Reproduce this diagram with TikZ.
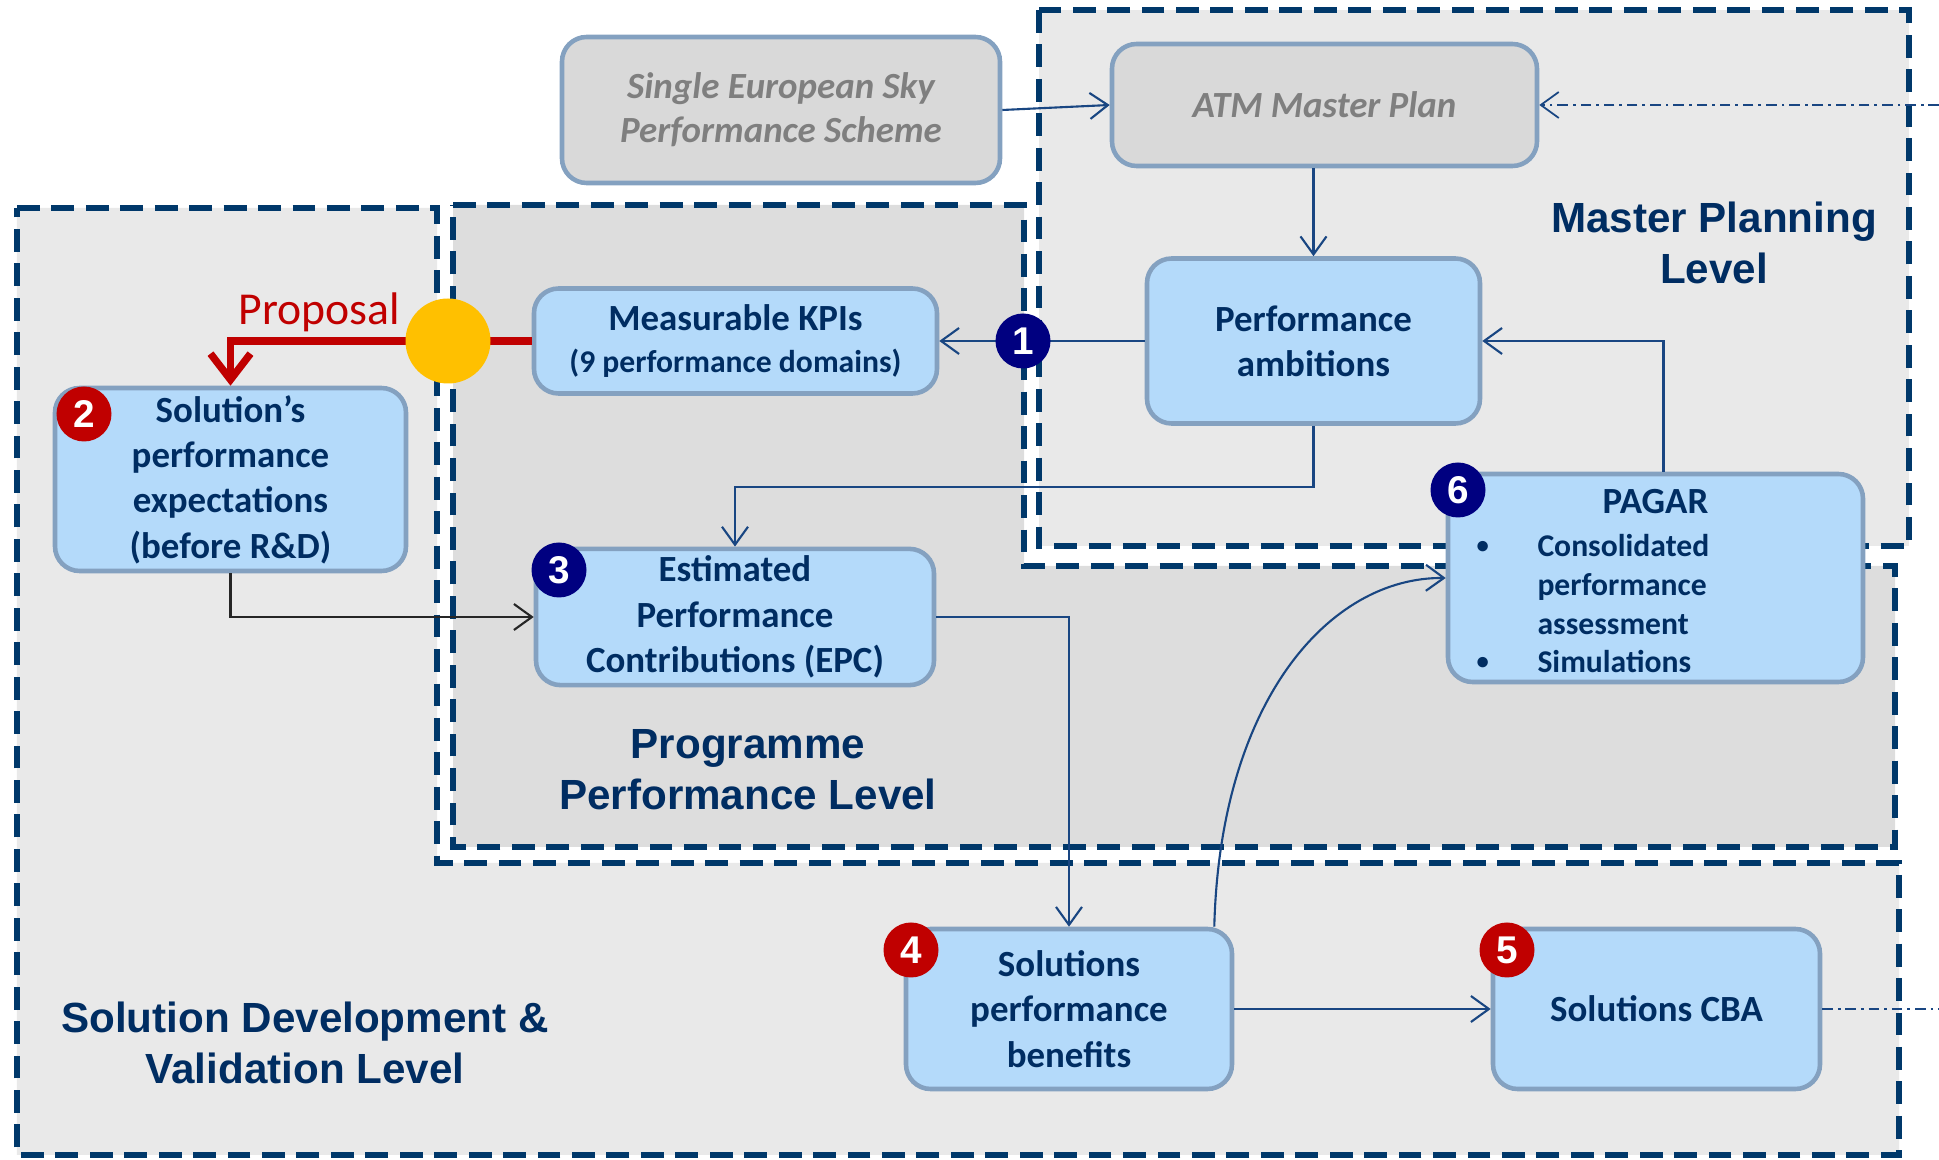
\documentclass[tikz,border=0pt]{standalone}
\usepackage{fontspec}
\setmainfont{Carlito}
\newfontfamily\arialfont{Liberation Sans}
\usepackage{tikz}
\usetikzlibrary{arrows.meta, positioning, calc}
\definecolor{zoneblue}{RGB}{0, 56, 106}
\definecolor{zonelight}{RGB}{233, 233, 233}
\definecolor{zonemid}{RGB}{221, 221, 221}
\definecolor{boxfill}{RGB}{180, 218, 250}
\definecolor{boxedge}{RGB}{132, 161, 192}
\definecolor{planfill}{RGB}{217, 217, 217}
\definecolor{plantext}{RGB}{127, 127, 127}
\definecolor{textnavy}{RGB}{0, 45, 98}
\definecolor{linkblue}{RGB}{25, 70, 130}
\definecolor{badgenavy}{RGB}{0, 0, 128}
\definecolor{badgered}{RGB}{192, 0, 0}
\definecolor{propgold}{RGB}{255, 192, 0}
\newcommand{\pagarbullet}{\raisebox{1pt}{\fontsize{7}{7}\selectfont\textbullet}}

\begin{document}
\begin{tikzpicture}[
  zone/.style={draw=zoneblue, line width=1.8pt, dash pattern=on 6.5pt off 3.3pt},
  bluebox/.style={draw=boxedge, line width=1.3pt, fill=boxfill, rounded corners=7pt, align=center, inner sep=2pt, text=textnavy, font=\fontsize{10.5}{12.9}\selectfont\bfseries},
  greybox/.style={bluebox, fill=planfill, text=plantext, font=\fontsize{10.5}{12.6}\selectfont\bfseries\itshape},
  numbadge/.style={circle, minimum size=0.55cm, inner sep=0pt, text=white, font=\arialfont\bfseries\fontsize{11}{11}\selectfont},
  navybadge/.style={numbadge, fill=badgenavy},
  redbadge/.style={numbadge, fill=badgered},
  zonelabel/.style={align=center, text=textnavy, font=\arialfont\bfseries\fontsize{12}{14.4}\selectfont},
  flow/.style={draw=linkblue, line width=0.6pt, -{Straight Barb[length=1.8mm, width=2.6mm]}},
  dashflow/.style={draw=linkblue, line width=0.5pt, dash pattern=on 3pt off 1.4pt on 0.8pt off 1.4pt}
]
  \useasboundingbox (0, 0) rectangle (19.39, 11.60);

  % Level zones
  \filldraw[zone, fill=zonelight] (0.17, 9.52) -- (4.37, 9.52) -- (4.37, 2.97) -- (18.99, 2.97) -- (18.99, 0.05) -- (0.17, 0.05) -- cycle;
  \filldraw[zone, fill=zonemid] (4.53, 9.55) -- (10.24, 9.55) -- (10.24, 5.94) -- (18.95, 5.94) -- (18.95, 3.13) -- (4.53, 3.13) -- cycle;
  \filldraw[zone, fill=zonelight] (10.39, 11.50) rectangle (19.09, 6.14);

  \node[zonelabel] (mplevel) at (17.14, 9.17) {Master Planning\\Level};
  \node[zonelabel] (pplevel) at (7.48, 3.90) {Programme\\Performance Level};
  \node[zonelabel] (sdlevel) at (3.05, 1.17) {Solution Development \&\\Validation Level};

  % Boxes
  \node[greybox, minimum width=4.38cm, minimum height=1.46cm] (SES) at (7.81, 10.50) {Single European Sky\\Performance Scheme};
  \node[greybox, minimum width=4.25cm, minimum height=1.22cm] (ATM) at (13.245, 10.55) {ATM Master Plan};
  \node[bluebox, minimum width=3.33cm, minimum height=1.65cm] (PerfAmb) at (13.135, 8.19) {Performance\\ambitions};
  \node[bluebox, minimum width=4.03cm, minimum height=1.05cm] (KPIs) at (7.355, 8.19) {Measurable KPIs\\[-1pt]{\fontsize{9}{10}\selectfont (9 performance domains)}};
  \node[bluebox, minimum width=3.51cm, minimum height=1.83cm] (SolExp) at (2.305, 6.805) {Solution’s\\performance\\expectations\\(before R\&D)};
  \node[bluebox, minimum width=3.98cm, minimum height=1.36cm] (EPC) at (7.35, 5.43) {Estimated\\Performance\\Contributions (EPC)};
  \node[bluebox, minimum width=4.15cm, minimum height=2.08cm, text width=3.9cm, align=left] (PAGAR) at (16.555, 5.82) {
    \makebox[3.9cm]{PAGAR}\\[-0.7pt]
    {\fontsize{9}{11}\selectfont
    \begin{tabular}[t]{@{\hspace{0.16cm}}p{0.61cm}@{}l@{}}
      \pagarbullet & Consolidated\\
                   & performance\\
                   & assessment\\
      \pagarbullet & Simulations\\[-0.18cm]
    \end{tabular}}
  };
  \node[bluebox, minimum width=3.26cm, minimum height=1.60cm] (SolBen) at (10.69, 1.51) {Solutions\\performance\\benefits};
  \node[bluebox, minimum width=3.27cm, minimum height=1.60cm] (CBA) at (16.565, 1.51) {Solutions CBA};

  % Connectors
  \coordinate (rimtop) at (19.39, 10.55);
  \coordinate (rimbot) at (19.39, 1.51);
  \draw[flow] (SES.east) -- (ATM.west);
  \draw[dashflow, -{Straight Barb[length=1.8mm, width=2.6mm]}] (rimtop) -- (ATM.east);
  \draw[flow] (ATM.south -| PerfAmb.north) -- (PerfAmb.north);
  \draw[flow] (PerfAmb.west) -- (KPIs.east);
  \draw[flow] (PerfAmb.south) -- ++(0, -0.61) -| (EPC.north);
  \draw[flow] ([xshift=0.8mm]PAGAR.north) |- (PerfAmb.east);
  \draw[flow, draw=black!85] (SolExp.south) |- (EPC.west);
  \draw[flow] (EPC.east) -| (SolBen.north);
  \draw[flow] ([xshift=-2mm]SolBen.north east) .. controls (12.2, 4.6) and (13.3, 5.83) .. (PAGAR.west);
  \draw[flow] (SolBen.east) -- (CBA.west);
  \draw[dashflow] (CBA.east) -- (rimbot);

  % Proposal
  \draw[draw=badgered, line width=2.1pt, -{Straight Barb[length=2.6mm, width=4mm]}] (KPIs.west) -| (SolExp.north);
  \node[circle, fill=propgold, minimum size=0.85cm, inner sep=0pt] (hub) at (4.48, 8.19) {};
  \node[text=badgered, font=\fontsize{13}{15}\selectfont] (proposal) at (3.19, 8.48) {Proposal};

  % Numbers
  \node[navybadge] (n1) at (10.23, 8.19) {1};
  \node[redbadge] (n2) at (0.84, 7.46) {2};
  \node[navybadge] (n3) at (5.59, 5.90) {3};
  \node[redbadge] (n4) at (9.11, 2.10) {4};
  \node[redbadge] (n5) at (15.07, 2.10) {5};
  \node[navybadge] (n6) at (14.58, 6.70) {6};
\end{tikzpicture}
\end{document}
